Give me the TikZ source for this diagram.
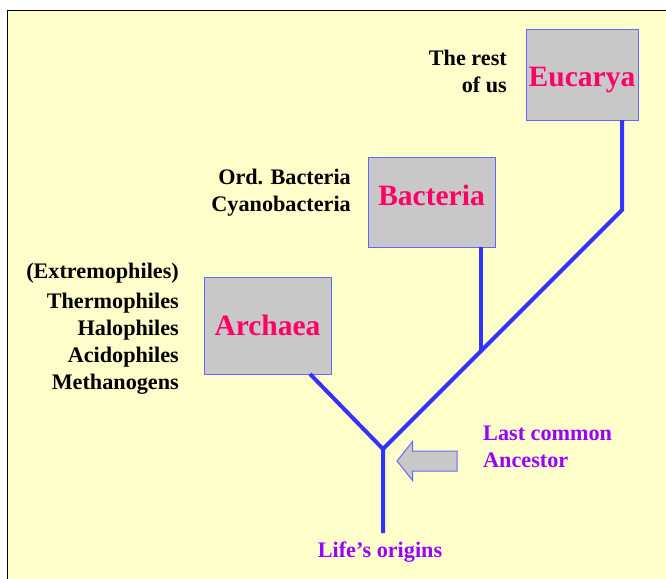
\documentclass[tikz,border=0pt]{standalone}
\usepackage{fontspec}
\setmainfont{Liberation Serif}
\usepackage{xcolor}
\definecolor{bgyellow}{HTML}{FFFFCC}
\definecolor{boxgray}{HTML}{C8C8C8}
\definecolor{boxblue}{HTML}{6666FF}
\definecolor{branchblue}{HTML}{3333FF}
\definecolor{domainpink}{HTML}{FF0066}
\definecolor{notepurple}{HTML}{9900FF}
\usetikzlibrary{arrows.meta,shapes.arrows}
\tikzset{
  domainbox/.style={
    rectangle, draw=boxblue, line width=1pt, fill=boxgray,
    inner sep=0pt, text=domainpink,
    font=\bfseries\fontsize{29.5}{34}\selectfont
  },
  sidetext/.style={
    anchor=east, align=right, inner sep=0pt,
    font=\bfseries\fontsize{22.2}{27}\selectfont
  },
  notetext/.style={
    align=left, inner sep=0pt, text=notepurple,
    font=\bfseries\fontsize{22.2}{27}\selectfont
  },
  branch/.style={draw=branchblue, line width=4pt}
}

\begin{document}
\begin{tikzpicture}[x=1pt,y=-1pt]

  \useasboundingbox (0,0) rectangle (666,578);

  % Slide background
  \draw[black, line width=1.5pt, fill=bgyellow] (7.5,10.5) rectangle (700,620);

  % Domain boxes
  \node[domainbox, minimum width=112pt, minimum height=90pt,
        text height=26pt, text depth=3pt] (eucarya) at (582,75) {Eucarya};
  \node[domainbox, minimum width=127pt, minimum height=90pt,
        text height=14pt, text depth=7pt] (bacteria) at (431.5,202) {Bacteria};
  \node[domainbox, minimum width=127pt, minimum height=97pt] (archaea) at (267.5,325.5) {Archaea};

  % Side labels
  \node[sidetext] (restofus) at (507,71) {The rest\\of us};
  \node[sidetext] (ordbact) at (351,193) {Ord. Bacteria\\Cyanobacteria};
  \node[sidetext] (extremo) at (179,273) {(Extremophiles)};
  \node[sidetext] (philes) at (179,344) {Thermophiles\\Halophiles\\Acidophiles\\Methanogens};

  % Branch points
  \coordinate (eukfoot) at (622,120);
  \coordinate (eukknee) at (622,210);
  \coordinate (bacfoot) at (481,247);
  \coordinate (backnee) at (481,351);
  \coordinate (arcfoot) at (310,374);
  \coordinate (lca) at (383,449);
  \coordinate (root) at (383,533);

  % Tree
  \draw[branch] (eukfoot) -- (eukknee) -- (lca);
  \draw[branch] (bacfoot) -- (backnee);
  \draw[branch] (arcfoot) -- (lca) -- (root);

  % Pointer to the common ancestor
  \node[single arrow, shape border rotate=180, draw=boxblue, line width=1pt,
        fill=boxgray, inner xsep=0pt, inner ysep=9.5pt, minimum height=60pt,
        single arrow head extend=9.5pt, single arrow tip angle=103]
        (lcaarrow) at (431,461) {};

  \node[notetext, anchor=west] (lcalabel) at (483,447) {Last common\\Ancestor};
  \node[notetext, anchor=north] (origins) at (380,542) {Life’s origins};

\end{tikzpicture}
\end{document}
